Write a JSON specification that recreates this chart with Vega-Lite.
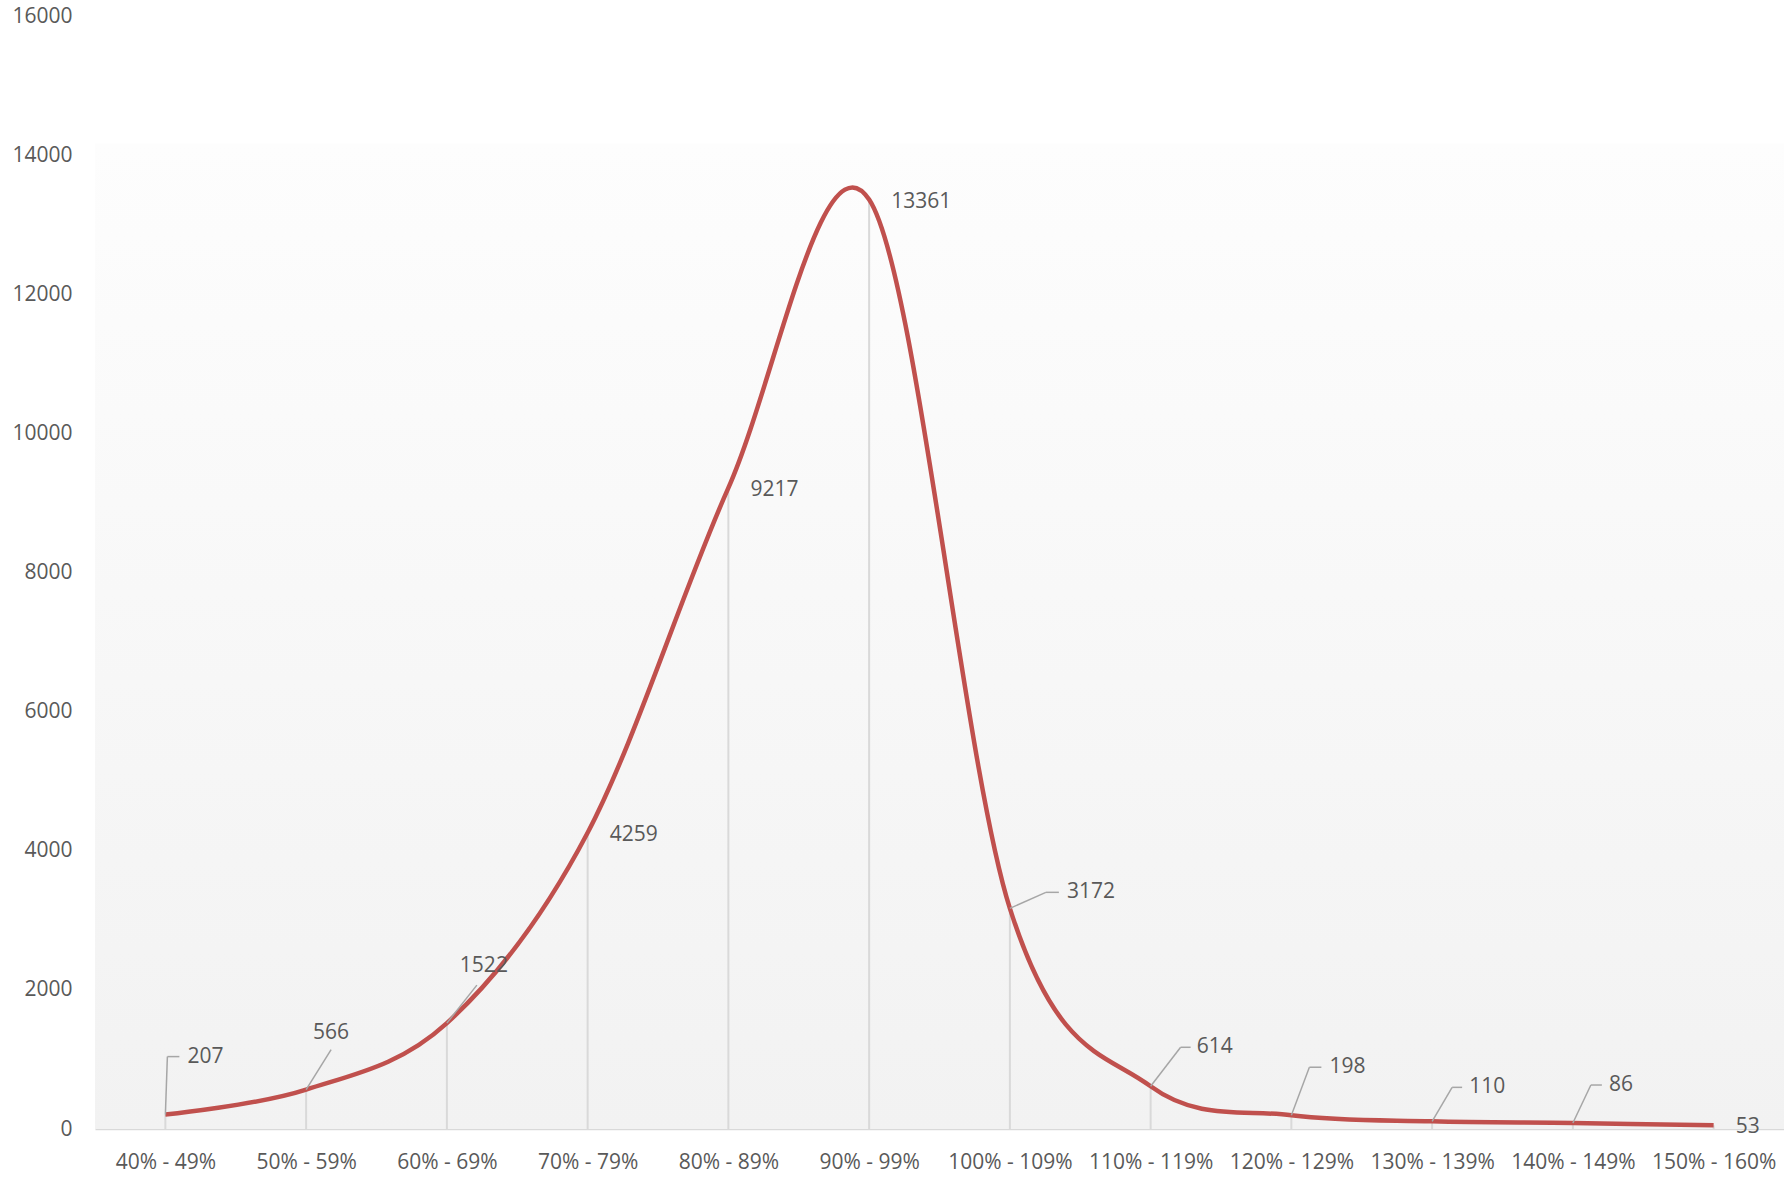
{
  "$schema": "https://vega.github.io/schema/vega-lite/v6.json",
  "width": 1689,
  "height": 1113,
  "autosize": {"type": "none"},
  "padding": {"left": 95, "top": 16, "right": 0, "bottom": 48},
  "background": "#ffffff",
  "config": {"view": {"stroke": null}, "font": "Open Sans"},
  "datasets": {
    "d": [
      {"range": "40% - 49%", "count": 207},
      {"range": "50% - 59%", "count": 566},
      {"range": "60% - 69%", "count": 1522},
      {"range": "70% - 79%", "count": 4259},
      {"range": "80% - 89%", "count": 9217},
      {"range": "90% - 99%", "count": 13361},
      {"range": "100% - 109%", "count": 3172},
      {"range": "110% - 119%", "count": 614},
      {"range": "120% - 129%", "count": 198},
      {"range": "130% - 139%", "count": 110},
      {"range": "140% - 149%", "count": 86},
      {"range": "150% - 160%", "count": 53}
    ]
  },
  "layer": [
    {
      "data": {"values": [{}]},
      "mark": {
        "type": "rect",
        "color": {
          "gradient": "linear", "x1": 0, "y1": 0, "x2": 0, "y2": 1,
          "stops": [
            {"offset": 0, "color": "#ffffff"},
            {"offset": 0.114, "color": "#ffffff"},
            {"offset": 0.115, "color": "#fdfdfd"},
            {"offset": 1, "color": "#f2f2f2"}
          ]
        }
      },
      "encoding": {
        "x": {"value": 0},
        "x2": {"value": "width"},
        "y": {"value": 0},
        "y2": {"value": "height"}
      }
    },
    {
      "data": {"name": "d"},
      "encoding": {
        "x": {
          "field": "range", "type": "ordinal", "sort": null,
          "scale": {"type": "point", "padding": 0.5},
          "axis": {
            "title": null, "labelAngle": 0, "labelFontSize": 21, "labelColor": "#595959",
            "labelPadding": 22, "ticks": false, "domainColor": "#d9d9d9", "domainWidth": 1.5, "grid": false
          }
        },
        "y": {
          "field": "count", "type": "quantitative",
          "scale": {"domain": [0, 16000], "nice": false},
          "axis": {
            "title": null, "values": [0, 2000, 4000, 6000, 8000, 10000, 12000, 14000, 16000],
            "format": "d",
            "labelFontSize": 21, "labelColor": "#595959", "labelPadding": 23,
            "ticks": false, "domain": false, "grid": false
          }
        }
      },
      "layer": [
        {
          "mark": {"type": "rule", "color": "#d9d9d9", "strokeWidth": 2},
          "encoding": {"y2": {"datum": 0}}
        },
        {
          "mark": {"type": "line", "interpolate": "cardinal", "tension": 0, "color": "#c0504d", "strokeWidth": 4.5}
        },
        {
          "encoding": {"x2": {"field": "range"}, "y2": {"field": "count"}},
          "layer": [
            {"transform": [{"filter": {"field": "range", "equal": "40% - 49%"}}],
             "mark": {"type": "rule", "color": "#a6a6a6", "strokeWidth": 1.5, "x2Offset": 2, "y2Offset": -58}},
            {"transform": [{"filter": {"field": "range", "equal": "40% - 49%"}}],
             "mark": {"type": "rule", "color": "#a6a6a6", "strokeWidth": 1.5, "xOffset": 2, "yOffset": -58, "x2Offset": 14, "y2Offset": -58}},
            {"transform": [{"filter": {"field": "range", "equal": "50% - 59%"}}],
             "mark": {"type": "rule", "color": "#a6a6a6", "strokeWidth": 1.5, "x2Offset": 25, "y2Offset": -40}},
            {"transform": [{"filter": {"field": "range", "equal": "60% - 69%"}}],
             "mark": {"type": "rule", "color": "#a6a6a6", "strokeWidth": 1.5, "x2Offset": 30, "y2Offset": -38}},
            {"transform": [{"filter": {"field": "range", "equal": "100% - 109%"}}],
             "mark": {"type": "rule", "color": "#a6a6a6", "strokeWidth": 1.5, "x2Offset": 36, "y2Offset": -16}},
            {"transform": [{"filter": {"field": "range", "equal": "100% - 109%"}}],
             "mark": {"type": "rule", "color": "#a6a6a6", "strokeWidth": 1.5, "xOffset": 36, "yOffset": -16, "x2Offset": 49, "y2Offset": -16}},
            {"transform": [{"filter": {"field": "range", "equal": "110% - 119%"}}],
             "mark": {"type": "rule", "color": "#a6a6a6", "strokeWidth": 1.5, "x2Offset": 30, "y2Offset": -39}},
            {"transform": [{"filter": {"field": "range", "equal": "110% - 119%"}}],
             "mark": {"type": "rule", "color": "#a6a6a6", "strokeWidth": 1.5, "xOffset": 30, "yOffset": -39, "x2Offset": 40, "y2Offset": -39}},
            {"transform": [{"filter": {"field": "range", "equal": "120% - 129%"}}],
             "mark": {"type": "rule", "color": "#a6a6a6", "strokeWidth": 1.5, "x2Offset": 18, "y2Offset": -48}},
            {"transform": [{"filter": {"field": "range", "equal": "120% - 129%"}}],
             "mark": {"type": "rule", "color": "#a6a6a6", "strokeWidth": 1.5, "xOffset": 18, "yOffset": -48, "x2Offset": 30, "y2Offset": -48}},
            {"transform": [{"filter": {"field": "range", "equal": "130% - 139%"}}],
             "mark": {"type": "rule", "color": "#a6a6a6", "strokeWidth": 1.5, "x2Offset": 20, "y2Offset": -34}},
            {"transform": [{"filter": {"field": "range", "equal": "130% - 139%"}}],
             "mark": {"type": "rule", "color": "#a6a6a6", "strokeWidth": 1.5, "xOffset": 20, "yOffset": -34, "x2Offset": 30, "y2Offset": -34}},
            {"transform": [{"filter": {"field": "range", "equal": "140% - 149%"}}],
             "mark": {"type": "rule", "color": "#a6a6a6", "strokeWidth": 1.5, "x2Offset": 18, "y2Offset": -38}},
            {"transform": [{"filter": {"field": "range", "equal": "140% - 149%"}}],
             "mark": {"type": "rule", "color": "#a6a6a6", "strokeWidth": 1.5, "xOffset": 18, "yOffset": -38, "x2Offset": 29, "y2Offset": -38}}
          ]
        },
        {
          "encoding": {"text": {"field": "count", "type": "quantitative", "format": "d"}},
          "layer": [
            {"transform": [{"filter": {"field": "range", "oneOf": ["70% - 79%", "80% - 89%", "90% - 99%", "150% - 160%"]}}],
             "mark": {"type": "text", "align": "left", "baseline": "middle", "dx": 22, "dy": 2, "fontSize": 21, "color": "#595959"}},
            {"transform": [{"filter": {"field": "range", "equal": "40% - 49%"}}],
             "mark": {"type": "text", "align": "left", "baseline": "middle", "dx": 22, "dy": -58, "fontSize": 21, "color": "#595959"}},
            {"transform": [{"filter": {"field": "range", "equal": "50% - 59%"}}],
             "mark": {"type": "text", "align": "center", "baseline": "middle", "dx": 25, "dy": -57, "fontSize": 21, "color": "#595959"}},
            {"transform": [{"filter": {"field": "range", "equal": "60% - 69%"}}],
             "mark": {"type": "text", "align": "center", "baseline": "middle", "dx": 37, "dy": -57, "fontSize": 21, "color": "#595959"}},
            {"transform": [{"filter": {"field": "range", "equal": "100% - 109%"}}],
             "mark": {"type": "text", "align": "left", "baseline": "middle", "dx": 57, "dy": -16, "fontSize": 21, "color": "#595959"}},
            {"transform": [{"filter": {"field": "range", "equal": "110% - 119%"}}],
             "mark": {"type": "text", "align": "left", "baseline": "middle", "dx": 46, "dy": -39, "fontSize": 21, "color": "#595959"}},
            {"transform": [{"filter": {"field": "range", "equal": "120% - 129%"}}],
             "mark": {"type": "text", "align": "left", "baseline": "middle", "dx": 38, "dy": -48, "fontSize": 21, "color": "#595959"}},
            {"transform": [{"filter": {"field": "range", "equal": "130% - 139%"}}],
             "mark": {"type": "text", "align": "left", "baseline": "middle", "dx": 37, "dy": -34, "fontSize": 21, "color": "#595959"}},
            {"transform": [{"filter": {"field": "range", "equal": "140% - 149%"}}],
             "mark": {"type": "text", "align": "left", "baseline": "middle", "dx": 36, "dy": -38, "fontSize": 21, "color": "#595959"}}
          ]
        }
      ]
    }
  ]
}
